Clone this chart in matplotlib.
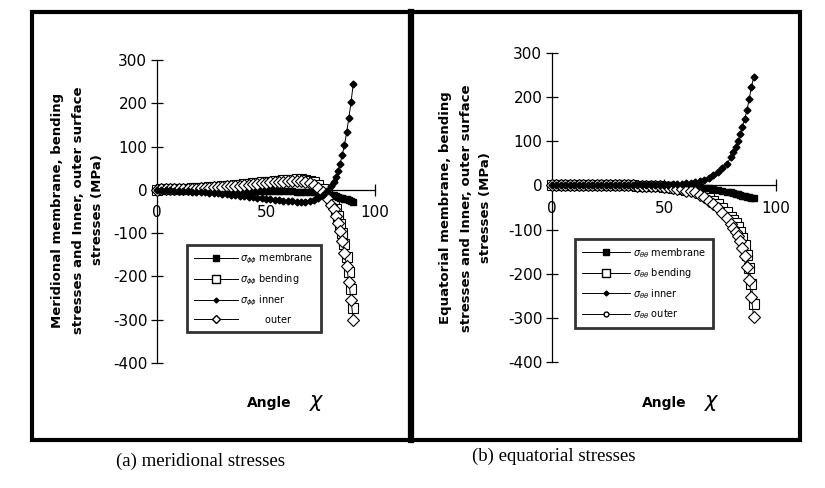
import matplotlib.pyplot as plt
from matplotlib.lines import Line2D
from matplotlib.patches import Rectangle

plt.rcParams['axes.unicode_minus'] = False
plt.rcParams['font.family'] = 'DejaVu Sans'

W, H = 825, 488

# angle chi (degrees)
angles = [0, 2, 4, 6, 8, 10, 12, 14, 16, 18, 20, 22, 24, 26, 28, 30, 32, 34, 36, 38, 40,
          42, 44, 46, 48, 50, 52, 54, 56, 58, 60, 62, 64, 66, 68, 70, 72, 74, 76, 78, 80,
          81, 82, 83, 84, 85, 86, 87, 88, 89, 90]

# (a) meridional stresses, MPa
mer_membrane = [0, 0, 0, 0, 0, 0, 0, 0, -1, -1, -1,
                -1, -1, -1, -1, -1, -1, -2, -2, -2, -2,
                -2, -2, -2, -2, -2, -2, -3, -3, -3, -3,
                -3, -4, -4, -5, -5, -6, -7, -8, -10, -12,
                -13, -15, -16, -18, -19, -21, -22, -24, -26, -28]
mer_bending = [0, 1, 1, 1, 2, 2, 3, 3, 4, 4, 5,
               5, 6, 7, 7, 8, 9, 10, 11, 12, 13,
               14, 15, 16, 17, 18, 19, 20, 21, 22, 23,
               23, 24, 24, 23, 21, 17, 11, 3, -8, -22,
               -32, -45, -60, -78, -100, -125, -155, -190, -228, -272]
mer_inner = [0, -1, -1, -1, -2, -2, -3, -3, -5, -5, -6,
             -6, -7, -8, -8, -9, -10, -12, -13, -14, -15,
             -16, -17, -18, -19, -20, -21, -23, -24, -25, -26,
             -26, -28, -28, -28, -26, -23, -18, -11, -2, 10,
             19, 30, 44, 60, 81, 104, 133, 166, 202, 244]
mer_outer = [0, 1, 1, 1, 2, 2, 3, 3, 3, 3, 4,
             4, 5, 6, 6, 7, 8, 8, 9, 10, 11,
             12, 13, 14, 15, 16, 17, 17, 18, 19, 20,
             20, 20, 20, 18, 16, 11, 4, -5, -18, -34,
             -45, -60, -76, -96, -119, -146, -177, -214, -254, -300]

# (b) equatorial stresses, MPa
equ_membrane = [0, 0, 0, 0, 0, 0, 0, 0, 0, 0, 0,
                0, 0, 0, 0, 0, 0, 0, 0, 0, 0,
                0, 0, 0, 0, 0, 0, 0, -1, -1, -2,
                -2, -3, -4, -5, -6, -8, -10, -12, -14, -16,
                -18, -19, -20, -22, -23, -24, -26, -27, -28, -29]
equ_bending = [0, 0, 0, 0, 0, 0, 0, 0, 0, 0, 0,
               0, 0, 0, 0, 0, 0, 0, 0, -1, -1,
               -1, -1, -2, -2, -3, -4, -5, -6, -8, -10,
               -11, -13, -17, -22, -29, -35, -42, -50, -60, -72,
               -78, -86, -95, -105, -118, -136, -158, -187, -224, -269]
equ_inner = [0, 0, 0, 0, 0, 0, 0, 0, 0, 0, 0,
             0, 0, 0, 0, 0, 0, 0, 0, 0, 0,
             0, 1, 1, 1, 2, 2, 3, 3, 4, 5,
             6, 8, 10, 13, 17, 23, 30, 39, 49, 64,
             75, 87, 100, 116, 133, 150, 170, 195, 222, 245]
equ_outer = [0, 0, 0, 0, 0, 0, 0, 0, 0, 0, 0,
             0, 0, 0, 0, 0, 0, 0, 0, -1, -1,
             -1, -1, -2, -2, -3, -4, -5, -7, -9, -12,
             -13, -16, -21, -27, -35, -43, -52, -62, -74, -88,
             -96, -105, -115, -127, -141, -160, -184, -214, -252, -298]

y_ticks = [-400, -300, -200, -100, 0, 100, 200, 300]
x_ticks = [0, 50, 100]

fig = plt.figure(figsize=(W / 100, H / 100), dpi=100)


def make_axes(x0, x100, y300, y400):
    # box in pixels: x of angle 0 / 100, y of +300 / -400 (from top)
    ax = fig.add_axes([x0 / W, 1 - y400 / H, (x100 - x0) / W, (y400 - y300) / H])
    ax.set_xlim(0, 100)
    ax.set_ylim(-400, 300)
    ax.patch.set_visible(False)
    for s in ['top', 'right']:
        ax.spines[s].set_visible(False)
    ax.spines['left'].set_position(('data', 0))
    ax.spines['bottom'].set_position(('data', 0))
    ax.spines['left'].set_bounds(-400, 300)
    ax.spines['bottom'].set_bounds(0, 100)
    ax.spines['left'].set_linewidth(0.9)
    ax.spines['bottom'].set_linewidth(0.9)
    ax.set_yticks(y_ticks)
    ax.set_yticklabels([str(v) for v in y_ticks])
    ax.set_xticks(x_ticks)
    ax.set_xticklabels([str(v) for v in x_ticks])
    ax.tick_params(direction='inout', length=8, width=0.9, labelsize=11, colors='black')
    ax.tick_params(axis='x', pad=7)
    ax.tick_params(axis='y', pad=3)
    return ax


def draw(ax, membrane, bending, inner, outer):
    kw = dict(color='black', lw=0.7, clip_on=False)
    ax.plot(angles, membrane, marker='s', ms=4.5, mfc='black', mec='black', zorder=3, **kw)
    ax.plot(angles, bending, marker='s', ms=6.5, mfc='white', mec='black', mew=0.8, zorder=2, **kw)
    ax.plot(angles, inner, marker='D', ms=3.5, mfc='black', mec='black', zorder=4, **kw)
    ax.plot(angles, outer, marker='D', ms=6, mfc='white', mec='black', mew=0.8, zorder=3, **kw)


def legend_handles(last_marker, last_size):
    kw = dict(color='black', lw=0.7)
    return [Line2D([], [], marker='s', ms=4, mfc='black', mec='black', **kw),
            Line2D([], [], marker='s', ms=5.5, mfc='white', mec='black', **kw),
            Line2D([], [], marker='D', ms=2.5, mfc='black', mec='black', **kw),
            Line2D([], [], marker=last_marker, ms=last_size, mfc='white', mec='black', **kw)]


def add_legend(ax, handles, labels, left, top, hlen):
    leg = ax.legend(handles, labels, loc='upper left',
                    bbox_to_anchor=(left / W, 1 - top / H), bbox_transform=fig.transFigure,
                    frameon=True, fancybox=False, edgecolor='black', fontsize=7,
                    handlelength=hlen, labelspacing=0.68, borderpad=0.7,
                    handletextpad=0.3, borderaxespad=0)
    leg.get_frame().set_linewidth(2)
    leg.set_zorder(10)
    return leg


# left panel: meridional
ax1 = make_axes(157, 375, 60, 363)
draw(ax1, mer_membrane, mer_bending, mer_inner, mer_outer)
add_legend(ax1, legend_handles('D', 4.5),
           [r'$\sigma_{\phi\phi}$ membrane', r'$\sigma_{\phi\phi}$ bending',
            r'$\sigma_{\phi\phi}$ inner', '        outer'],
           187, 245, 4.5)

# right panel: equatorial
ax2 = make_axes(552, 776, 53, 362)
draw(ax2, equ_membrane, equ_bending, equ_inner, equ_outer)
add_legend(ax2, legend_handles('o', 3.5),
           [r'$\sigma_{\theta\theta}$ membrane', r'$\sigma_{\theta\theta}$ bending',
            r'$\sigma_{\theta\theta}$ inner', r'$\sigma_{\theta\theta}$ outer'],
           575, 239, 5.0)

# y labels
fig.text(78 / W, 1 - 210 / H,
         'Meridional membrane, bending\nstresses and Inner, outer surface\nstresses (MPa)',
         rotation=90, ha='center', va='center', fontsize=9.5, fontweight='bold', linespacing=1.7)
fig.text(466 / W, 1 - 208 / H,
         'Equatorial membrane, bending\nstresses and Inner, outer surface\nstresses (MPa)',
         rotation=90, ha='center', va='center', fontsize=9.5, fontweight='bold', linespacing=1.7)

# x labels
for xa in [247, 642]:
    fig.text(xa / W, 1 - 403 / H, 'Angle', ha='left', va='center', fontsize=10, fontweight='bold')
    fig.text((xa + 70) / W, 1 - 403 / H, r'$\chi$', ha='center', va='center', fontsize=15)

# captions
fig.text(116 / W, 1 - 461 / H, '(a) meridional stresses', ha='left', va='center',
         fontsize=13.5, family='Liberation Serif')
fig.text(472 / W, 1 - 456 / H, '(b) equatorial stresses', ha='left', va='center',
         fontsize=13.5, family='Liberation Serif')

# thick frame around both panels
fig.add_artist(Rectangle((32 / W, 1 - 440 / H), (800 - 32) / W, (440 - 12) / H,
                         transform=fig.transFigure, fill=False, lw=3, ec='black'))
fig.add_artist(Line2D([411 / W, 411 / W], [1 - 440 / H, 1 - 12 / H],
                      transform=fig.transFigure, lw=4.5, color='black'))

fig.savefig('out.png', dpi=100)
